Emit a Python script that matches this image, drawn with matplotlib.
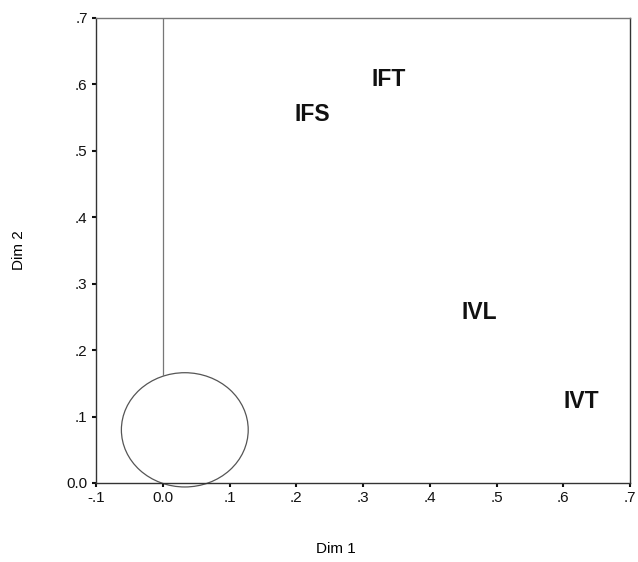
import matplotlib
matplotlib.use("Agg")
import matplotlib.pyplot as plt
from matplotlib.patches import Ellipse

plt.rcParams['font.family'] = ['Liberation Sans', 'DejaVu Sans']

labels = ["IFT", "IFS", "IVL", "IVT"]
dim1 = [0.338, 0.224, 0.474, 0.627]
dim2 = [0.607, 0.554, 0.256, 0.123]

xticks = [-0.1, 0.0, 0.1, 0.2, 0.3, 0.4, 0.5, 0.6, 0.7]
xticklabels = ["-.1", "0.0", ".1", ".2", ".3", ".4", ".5", ".6", ".7"]
yticks = [0.0, 0.1, 0.2, 0.3, 0.4, 0.5, 0.6, 0.7]
yticklabels = ["0.0", ".1", ".2", ".3", ".4", ".5", ".6", ".7"]

# ellipse: center, width, height (data units)
ell_center = (0.033, 0.080)
ell_w, ell_h = 0.19, 0.172
line_x = 0.0
line_y = [0.163, 0.7]

fig = plt.figure(figsize=(6.38, 5.62), dpi=100)
ax = fig.add_axes([0.1505, 0.1406, 0.8370, 0.8274])
ax.set_xlim(-0.1, 0.7)
ax.set_ylim(0.0, 0.7)

for lab, x, y in zip(labels, dim1, dim2):
    ax.text(x, y, lab, ha='center', va='center', fontsize=16.5, fontweight='bold', color='#111111')

ax.add_patch(Ellipse(ell_center, ell_w, ell_h, fill=False, edgecolor='#555555', linewidth=0.9, clip_on=False))
ax.plot([line_x, line_x], line_y, color='#777777', linewidth=0.9)

ax.set_xticks(xticks)
ax.set_xticklabels(xticklabels)
ax.set_yticks(yticks)
ax.set_yticklabels(yticklabels)
ax.tick_params(direction='out', length=3, width=1.5, labelsize=11, colors='#111111', pad=3)

for side in ['top']:
    ax.spines[side].set_color('#777777')
    ax.spines[side].set_linewidth(1.0)
for side in ['left', 'bottom', 'right']:
    ax.spines[side].set_color('#333333')
    ax.spines[side].set_linewidth(1.0)

fig.text(0.527, 0.023, "Dim 1", ha='center', va='center', fontsize=11)
fig.text(0.03, 0.555, "Dim 2", ha='center', va='center', fontsize=11, rotation=90)

fig.savefig("out.png", dpi=100)
